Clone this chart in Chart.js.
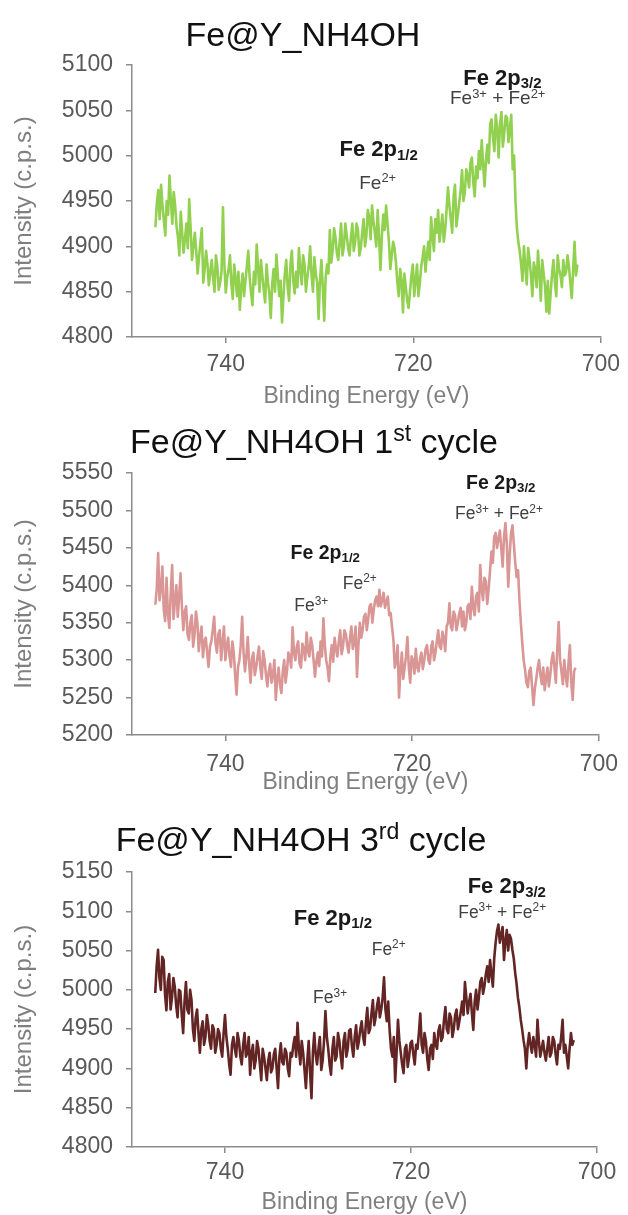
<!DOCTYPE html>
<html>
<head>
<meta charset="utf-8">
<script src="https://cdn.jsdelivr.net/npm/chart.js@4.4.0/dist/chart.umd.min.js"></script>
<style>
  html, body { margin: 0; padding: 0; background: #fff; }
  body { width: 628px; height: 1215px; position: relative; overflow: hidden; }
  canvas { position: absolute; left: 0; }
</style>
</head>
<body>
<canvas id="c1" width="628" height="408" style="top:0px"></canvas>
<canvas id="c2" width="628" height="386" style="top:408px"></canvas>
<canvas id="c3" width="628" height="409" style="top:805px"></canvas>
<script>
// binding energy grid of the scans (eV), high to low
const energyStart = 747.5;
const energyStep = 0.15;

// Fe@Y_NH4OH (fresh)
const freshCounts = [
  4921, 4948, 4962, 4930, 4968, 4945, 4928, 4912, 4950, 4935, 4978, 4950, 4925, 4960, 4945, 4922, 4910, 4890, 4938, 4915,
  4893, 4908, 4925, 4898, 4952, 4920, 4885, 4900, 4915, 4895, 4870, 4888, 4905, 4920, 4860, 4875, 4895, 4880, 4857, 4872,
  4885, 4865, 4850, 4890, 4878, 4852, 4860, 4872, 4943, 4880, 4849, 4866, 4875, 4890, 4858, 4842, 4880, 4865, 4845, 4872,
  4830, 4855, 4870, 4845, 4862, 4878, 4895, 4866, 4848, 4835, 4872, 4858, 4902, 4875, 4850, 4885, 4868, 4852, 4838, 4880,
  4860, 4848, 4821, 4858, 4875, 4850, 4891, 4868, 4845, 4862, 4816, 4845, 4870, 4885, 4855, 4840, 4880, 4895, 4862, 4848,
  4872, 4855, 4898, 4875, 4858, 4890, 4880, 4850, 4866, 4878, 4900, 4868, 4850, 4888, 4870, 4860, 4820, 4862, 4885, 4855,
  4818, 4865, 4880, 4870, 4918, 4882, 4895, 4920, 4910, 4892, 4885, 4905, 4925, 4890, 4900, 4925, 4912, 4898, 4890, 4910,
  4925, 4895, 4905, 4925, 4918, 4890, 4898, 4915, 4930, 4900, 4912, 4940, 4932, 4908, 4945, 4928, 4915, 4900, 4940, 4910,
  4874, 4912, 4935, 4918, 4945, 4925, 4905, 4875, 4890, 4905, 4898, 4882, 4860, 4845, 4875, 4862, 4827, 4870, 4855, 4840,
  4832, 4850, 4868, 4880, 4845, 4862, 4880, 4845, 4860, 4878, 4888, 4900, 4872, 4890, 4905, 4885, 4932, 4912, 4895, 4930,
  4915, 4940, 4905, 4920, 4935, 4905, 4918, 4940, 4965, 4945, 4930, 4915, 4955, 4968, 4922, 4935, 4948, 4962, 4984, 4950,
  4960, 4985, 4978, 4965, 4992, 4998, 4970, 4955, 4988, 4975, 5005, 4985, 5017, 4990, 4966, 4995, 5012, 4992, 5035, 5040,
  5020, 5005, 5045, 5030, 4998, 5035, 5048, 5010, 5025, 5044, 5042, 5015, 5030, 5045, 4985, 5000, 4950, 4920, 4905, 4895,
  4880, 4862, 4900, 4878, 4858, 4898, 4885, 4868, 4845, 4882, 4875, 4855, 4895, 4870, 4840, 4885, 4870, 4856, 4828, 4862,
  4826, 4848, 4870, 4885, 4860, 4845, 4890, 4875, 4868, 4855, 4885, 4868, 4872, 4890, 4878, 4860, 4843, 4875, 4905, 4868,
  4880
];

// Fe@Y_NH4OH after the 1st cycle
const cycle1Counts = [
  5374, 5395, 5443, 5380, 5395, 5425, 5368, 5352, 5410, 5362, 5343, 5390, 5427, 5355, 5380, 5400, 5358, 5385, 5416, 5370,
  5340, 5365, 5372, 5335, 5327, 5350, 5360, 5318, 5335, 5365, 5350, 5312, 5331, 5345, 5304, 5325, 5330, 5310, 5291, 5318,
  5325, 5340, 5358, 5322, 5310, 5335, 5340, 5300, 5323, 5345, 5300, 5318, 5330, 5305, 5291, 5325, 5310, 5280, 5254, 5290,
  5300, 5320, 5358, 5310, 5285, 5305, 5331, 5295, 5270, 5302, 5310, 5280, 5290, 5305, 5318, 5290, 5275, 5312, 5300, 5280,
  5265, 5285, 5295, 5270, 5280, 5300, 5247, 5275, 5290, 5268, 5256, 5285, 5300, 5270, 5285, 5310, 5305, 5290, 5344, 5310,
  5300, 5318, 5325, 5295, 5290, 5322, 5315, 5300, 5337, 5312, 5305, 5330, 5320, 5300, 5278, 5298, 5310, 5292, 5325, 5305,
  5356, 5320, 5300, 5290, 5272, 5305, 5320, 5298, 5330, 5315, 5305, 5325, 5340, 5308, 5318, 5340, 5335, 5320, 5310, 5330,
  5345, 5315, 5325, 5345, 5278, 5320, 5350, 5330, 5340, 5358, 5362, 5340, 5355, 5372, 5375, 5350, 5368, 5380, 5385, 5372,
  5394, 5372, 5380, 5390, 5370, 5378, 5385, 5360, 5363, 5345, 5327, 5290, 5300, 5320, 5250, 5285, 5310, 5275, 5290, 5305,
  5331, 5290, 5270, 5305, 5300, 5282, 5315, 5290, 5285, 5302, 5310, 5288, 5300, 5315, 5320, 5300, 5295, 5318, 5325, 5300,
  5310, 5325, 5340, 5318, 5315, 5338, 5330, 5312, 5345, 5350, 5376, 5345, 5340, 5365, 5360, 5340, 5350, 5362, 5370, 5345,
  5365, 5340, 5350, 5372, 5375, 5355, 5398, 5370, 5360, 5385, 5390, 5365, 5427, 5395, 5380, 5410, 5405, 5375, 5395, 5420,
  5445, 5430, 5465, 5470, 5450, 5462, 5473, 5450, 5425, 5465, 5483, 5455, 5398, 5440, 5470, 5480, 5455, 5430, 5411, 5420,
  5380, 5350, 5323, 5300, 5287, 5270, 5264, 5285, 5290, 5265, 5240, 5262, 5275, 5290, 5300, 5280, 5268, 5290, 5260, 5275,
  5290, 5265, 5280, 5300, 5310, 5290, 5270, 5315, 5351, 5300, 5285, 5268, 5300, 5280, 5265, 5295, 5320, 5270, 5247, 5285,
  5290
];

// Fe@Y_NH4OH after the 3rd cycle
const cycle3Counts = [
  4996, 5030, 5051, 5015, 5000, 5042, 5038, 4995, 4974, 5010, 5020, 4975, 4990, 5015, 5004, 4980, 4965, 5000, 4998, 4968,
  4945, 4985, 5010, 4975, 4970, 5000, 4987, 4950, 4935, 4965, 4975, 4945, 4920, 4950, 4960, 4930, 4940, 4968, 4955, 4935,
  4925, 4955, 4950, 4920, 4930, 4950, 4945, 4925, 4915, 4945, 4968, 4940, 4925, 4905, 4892, 4930, 4940, 4925, 4915, 4945,
  4935, 4915, 4905, 4930, 4945, 4915, 4920, 4940, 4892, 4920, 4930, 4900, 4910, 4935, 4925, 4905, 4885, 4925, 4915, 4900,
  4885, 4910, 4920, 4895, 4900, 4918, 4925, 4900, 4875, 4915, 4932, 4908, 4905, 4925, 4920, 4900, 4890, 4920, 4915, 4930,
  4940, 4915, 4958, 4925, 4905, 4935, 4920, 4898, 4875, 4910, 4935, 4895, 4862, 4920, 4945, 4918, 4905, 4925, 4940, 4898,
  4910, 4935, 4973, 4940, 4925, 4905, 4892, 4925, 4940, 4910, 4915, 4945, 4935, 4915, 4900, 4935, 4945, 4915, 4925, 4948,
  4950, 4928, 4915, 4940, 4955, 4925, 4935, 4950, 4960, 4940, 4930, 4958, 4977, 4945, 4950, 4970, 4987, 4955, 4965, 4980,
  4990, 4965, 4975, 4990, 5016, 4975, 4960, 4985, 4949, 4925, 4915, 4940, 4883, 4920, 4962, 4935, 4920, 4905, 4894, 4925,
  4930, 4902, 4915, 4932, 4935, 4918, 4905, 4930, 4925, 4945, 4970, 4930, 4920, 4945, 4935, 4912, 4898, 4925, 4930, 4912,
  4945, 4930, 4925, 4948, 4955, 4935, 4940, 4962, 4978, 4950, 4945, 4970, 4965, 4940, 4950, 4968, 4975, 4950, 4960, 4972,
  4985, 4968, 5010, 4990, 4970, 4985, 4995, 4970, 4949, 4985, 5000, 4975, 4990, 5010, 5015, 4995, 5005, 5020, 5030, 5010,
  5038, 5020, 5004, 5040, 5060, 5075, 5083, 5060, 5070, 5080, 5038, 5062, 5076, 5050, 5070, 5065, 5051, 5040, 5022, 5008,
  4990, 4978, 4962, 4950, 4936, 4925, 4900, 4930, 4945, 4930, 4920, 4940, 4930, 4915, 4962, 4935, 4915, 4925, 4935, 4920,
  4910, 4925, 4940, 4915, 4920, 4940, 4935, 4918, 4905, 4930, 4925, 4940, 4962, 4920, 4930, 4915, 4900, 4925, 4945, 4930,
  4936
];

const energyTicks = [740, 720, 700];
const freshTicks = [4800, 4850, 4900, 4950, 5000, 5050, 5100];
const cycle1Ticks = [5200, 5250, 5300, 5350, 5400, 5450, 5500, 5550];
const cycle3Ticks = [4800, 4850, 4900, 4950, 5000, 5050, 5100, 5150];

const energies = freshCounts.map((_, i) => +(energyStart - energyStep * i).toFixed(2));

const FONT = '"Liberation Sans", Arial, sans-serif';
const axisGrey = "#8c8c8c";
const tickGrey = "#595959";
const labelGrey = "#7f7f7f";

const fe2p12 = [["Fe 2p", "n"], ["1/2", "sub"]];
const fe2p32 = [["Fe 2p", "n"], ["3/2", "sub"]];
const fe2 = [["Fe", "n"], ["2+", "sup"]];
const fe3 = [["Fe", "n"], ["3+", "sup"]];
const fe32 = [["Fe", "n"], ["3+", "sup"], [" + Fe", "n"], ["2+", "sup"]];

const panels = [
  {
    id: "c1", counts: freshCounts, yTicks: freshTicks, color: "#92d050",
    title: [["Fe@Y_NH4OH", "n"]], titleX: 303, titleY: 34,
    padTop: 65, padRight: 21, xAxisH: 71, tickPad: 8,
    notes: [
      { e: 723.7, v: 5008, parts: fe2p12, size: 22, bold: true },
      { e: 723.8, v: 4971, parts: fe2, size: 19 },
      { e: 710.5, v: 5087, parts: fe2p32, size: 22, bold: true },
      { e: 711.0, v: 5064, parts: fe32, size: 19 }
    ]
  },
  {
    id: "c2", counts: cycle1Counts, yTicks: cycle1Ticks, color: "#d99694",
    title: [["Fe@Y_NH4OH 1", "n"], ["st", "sup"], [" cycle", "n"]], titleX: 314, titleY: 33,
    padTop: 65, padRight: 21, xAxisH: 59, tickPad: 10,
    notes: [
      { e: 729.3, v: 5445, parts: fe2p12, size: 19.5, bold: true },
      { e: 725.6, v: 5404, parts: fe2, size: 17.5 },
      { e: 730.8, v: 5374, parts: fe3, size: 17.5 },
      { e: 710.5, v: 5538, parts: fe2p32, size: 19.5, bold: true },
      { e: 710.7, v: 5497, parts: fe32, size: 17.5 }
    ]
  },
  {
    id: "c3", counts: cycle3Counts, yTicks: cycle3Ticks, color: "#632523",
    title: [["Fe@Y_NH4OH 3", "n"], ["rd", "sup"], [" cycle", "n"]], titleX: 301, titleY: 34,
    padTop: 67, padRight: 31, xAxisH: 67, tickPad: 6,
    notes: [
      { e: 728.4, v: 5093, parts: fe2p12, size: 22, bold: true },
      { e: 722.4, v: 5053, parts: fe2, size: 17.5 },
      { e: 728.7, v: 4991, parts: fe3, size: 17.5 },
      { e: 709.7, v: 5133, parts: fe2p32, size: 22, bold: true },
      { e: 710.2, v: 5100, parts: fe32, size: 17.5 }
    ]
  }
];

// text with sub/superscripts, centred on (cx, cy)
function drawRich(ctx, parts, cx, cy, size, bold, color) {
  const weight = bold ? "bold" : "normal";
  const pieces = parts.map(([text, kind]) => {
    const px = kind === "n" ? size : size * 0.68;
    const font = `${weight} ${px}px ${FONT}`;
    ctx.font = font;
    return { text, kind, font, w: ctx.measureText(text).width };
  });
  const total = pieces.reduce((s, p) => s + p.w, 0);
  let x = cx - total / 2;
  const base = cy + size * 0.36;
  ctx.save();
  ctx.fillStyle = color;
  ctx.textBaseline = "alphabetic";
  ctx.textAlign = "left";
  pieces.forEach((p) => {
    ctx.font = p.font;
    let y = base;
    if (p.kind === "sup") y = base - size * 0.36;
    if (p.kind === "sub") y = base + size * 0.16;
    ctx.fillText(p.text, x, y);
    x += p.w;
  });
  ctx.restore();
}

const makeTextPlugin = (panel) => ({
  id: "peakText",
  afterDraw(chart) {
    const { ctx, scales } = chart;
    drawRich(ctx, panel.title, panel.titleX, panel.titleY, 34, false, "#111111");
    panel.notes.forEach((n) => {
      drawRich(
        ctx, n.parts,
        scales.x.getPixelForValue(n.e), scales.y.getPixelForValue(n.v),
        n.size, n.bold, n.bold ? "#1a1a1a" : "#404040"
      );
    });
  }
});

const drawPanel = (panel) => {
  const yTicks = panel.yTicks;
  new Chart(document.getElementById(panel.id), {
    type: "line",
    data: {
      datasets: [{
        data: energies.map((e, i) => ({ x: e, y: panel.counts[i] })),
        borderColor: panel.color,
        borderWidth: 2.6,
        borderJoinStyle: "round",
        pointRadius: 0,
        tension: 0,
        fill: false
      }]
    },
    options: {
      responsive: false,
      animation: false,
      layout: { padding: { top: panel.padTop, right: panel.padRight, bottom: 0, left: 0 } },
      plugins: { legend: { display: false }, tooltip: { enabled: false } },
      scales: {
        x: {
          type: "linear",
          reverse: true,
          min: 700,
          max: 750,
          afterBuildTicks: (s) => { s.ticks = energyTicks.map((v) => ({ value: v })); },
          afterFit: (s) => { s.height = panel.xAxisH; },
          grid: { drawOnChartArea: false, drawTicks: true, tickLength: 6, color: axisGrey, lineWidth: 1.5 },
          border: { display: true, color: axisGrey, width: 1.5 },
          ticks: { color: tickGrey, font: { family: FONT, size: 23 }, padding: panel.tickPad, maxRotation: 0,
                   callback: (v) => String(v) },
          title: {
            display: true, text: "Binding Energy (eV)", color: labelGrey,
            font: { family: FONT, size: 23, lineHeight: 1 }, padding: { top: 0, bottom: 0 }
          }
        },
        y: {
          min: yTicks[0],
          max: yTicks[yTicks.length - 1],
          afterBuildTicks: (s) => { s.ticks = yTicks.map((v) => ({ value: v })); },
          afterFit: (s) => { s.width = 132; },
          grid: { drawOnChartArea: false, drawTicks: true, tickLength: 6, color: axisGrey, lineWidth: 1.5 },
          border: { display: true, color: axisGrey, width: 1.5 },
          ticks: { color: tickGrey, font: { family: FONT, size: 23 }, padding: 13, callback: (v) => String(v) },
          title: {
            display: true, text: "Intensity (c.p.s.)", color: labelGrey,
            font: { family: FONT, size: 24, lineHeight: 1 }, padding: { top: 12, bottom: 0 }
          }
        }
      }
    },
    plugins: [makeTextPlugin(panel)]
  });
};

panels.forEach(drawPanel);
</script>
</body>
</html>
